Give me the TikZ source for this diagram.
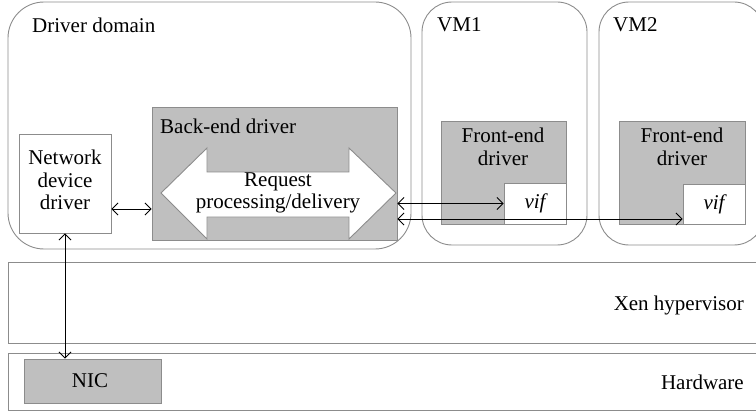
\documentclass[tikz,border=0pt]{standalone}
\usepackage{fontspec}
\setmainfont{Liberation Serif}
\usetikzlibrary{arrows.meta,calc}
\definecolor{edge}{HTML}{8C8C8C}
\definecolor{fillg}{HTML}{BFBFBF}
\tikzset{
  x=1pt,y=-1pt,
  every node/.style={font=\fontsize{21}{22.5}\selectfont, inner sep=0pt},
  region/.style={draw=edge, line width=0.9pt, rounded corners=#1},
  region/.default=34pt,
  graybox/.style={draw=edge, fill=fillg, line width=0.9pt},
  whitebox/.style={draw=edge, fill=white, line width=0.9pt},
  conn/.style={line width=0.8pt, {Straight Barb[length=6pt,width=12pt]}-{Straight Barb[length=6pt,width=12pt]}},
  lbl/.style={align=center}
}
\newcommand{\boxat}[6]{% style, name, x1,y1,x2,y2
  \node[#1, minimum width={#5-#3}, minimum height={#6-#4}] (#2) at ({(#3+#5)/2},{(#4+#6)/2}) {};}
\begin{document}
\begin{tikzpicture}
\useasboundingbox (0,0) rectangle (756,412);
% regions
\boxat{region=36pt}{dd}{8}{2}{411}{249}
\boxat{region=30pt}{vm1}{422}{2}{587}{245}
\boxat{region=30pt}{vm2}{599}{2}{764}{245}
\boxat{region=0pt}{xen}{8}{262}{762}{343}
\boxat{region=0pt}{hw}{8}{353}{762}{410}
\node[anchor=west] (ddl) at (32,25) {Driver domain};
\node[anchor=west] (vm1l) at (437,25) {VM1};
\node[anchor=west] (vm2l) at (613,25) {VM2};
\node[anchor=east] (xenl) at (744,305) {Xen hypervisor};
\node[anchor=east] (hwl) at (744,382) {Hardware};
% boxes
\boxat{whitebox}{nd}{19}{134}{111}{233}
\node[lbl] (ndl) at (65,180) {Network\\device\\driver};
\boxat{graybox}{be}{152}{107}{397}{240}
\node[anchor=west] (bel) at (160,126) {Back-end driver};
\draw[draw=edge, fill=white, line width=0.9pt]
  (161,193) -- (207,148) -- (207,172) -- (349,172) -- (349,148) -- (396,193)
  -- (349,239) -- (349,217) -- (207,217) -- (207,239) -- cycle;
\node[lbl] (req) at (278,193) {Request\\processing/delivery};
\boxat{graybox}{fe1}{441}{121}{566}{224}
\node[lbl] (fe1l) at (503,147) {Front-end\\driver};
\boxat{whitebox}{vif1}{504}{183}{566}{224}
\node (vif1l) at (535,203) {\itshape vif};
\boxat{graybox}{fe2}{619}{121}{745}{224}
\node[lbl] (fe2l) at (682,147) {Front-end\\driver};
\boxat{whitebox}{vif2}{683}{184}{745}{224}
\node (vif2l) at (714,204) {\itshape vif};
\boxat{graybox}{nic}{24}{359}{161}{403}
\node (nicl) at (90,381) {NIC};
% connectors
\coordinate (r1) at (0,209);
\coordinate (r2) at (0,219);
\draw[conn] (nd.east |- r1) -- (be.west |- r1);
\draw[conn] (be.east |- vif1.west) -- (vif1.west);
\draw[conn] (be.east |- r2) -- (vif2.west |- r2);
\draw[conn] (nd.south) -- (nd.south |- nic.north);
\end{tikzpicture}
\end{document}
